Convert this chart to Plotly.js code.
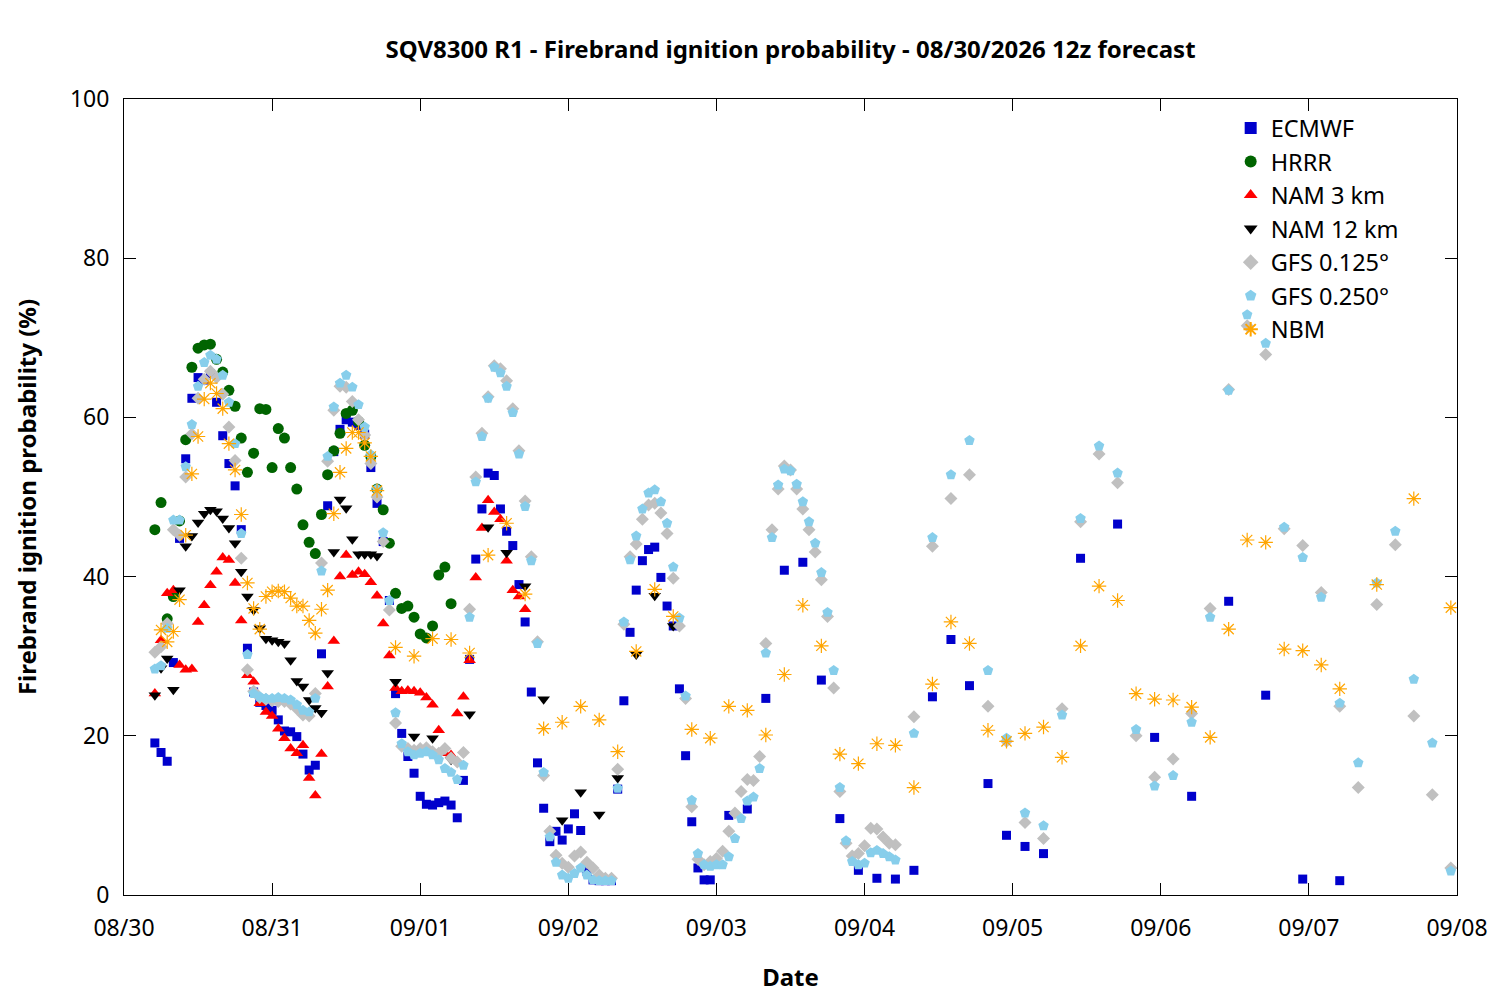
<!DOCTYPE html>
<html>
<head>
<meta charset="utf-8">
<script src="https://cdn.plot.ly/plotly-3.0.1.min.js"></script>
<style>
  body { margin: 0; background: #fff; }
  #chart { width: 1500px; height: 1000px; }
</style>
</head>
<body>
<div id="chart"></div>
<script>
// forecast hours are counted in local hours from 08/30 00:00
var runStart = Date.UTC(2026, 7, 30);

function hourly(a, b, step) {
    var r = [];
    for (var h = a; h <= b; h += step) r.push(h);
    return r;
}

// ECMWF: hourly to h95, 3-hourly to h149, 6-hourly after
var ecmwfHours = hourly(5, 95, 1).concat(hourly(98, 149, 3), hourly(155, 197, 6));
var ecmwf = [
    19.1, 17.9, 16.8, 29.2, 44.8, 54.8, 62.4, 65.0, 64.7, 65.5,
    61.9, 57.7, 54.2, 51.4, 45.9, 31.0, 25.5, 24.2, 23.8, 23.2,
    22.0, 20.6, 20.5, 19.9, 17.7, 15.7, 16.3, 30.3, 48.9, 55.7,
    58.5, 59.7, 59.4, 59.0, 57.9, 53.7, 49.2, 44.4, 37.0, 25.3,
    20.3, 17.4, 15.3, 12.4, 11.4, 11.3, 11.6, 11.8, 11.3, 9.7,
    14.4, 29.6, 42.2, 48.5, 53.0, 52.7, 48.5, 45.7, 43.9, 39.0,
    34.3, 25.5, 16.6, 10.9, 6.7, 8.0, 6.9, 8.3, 10.2, 8.1,
    3.0, 1.9, 1.8, 1.8, 1.8, 13.3, 24.4, 33.0, 38.3, 42.0,
    43.4, 43.7, 39.9, 36.3, 33.8, 25.9, 17.5, 9.2, 3.4, 1.9,
    1.9,
    10.0, 10.8, 24.7, 40.8, 41.8, 27.0, 9.6, 3.1, 2.1, 2.0,
    3.1, 24.9, 32.1, 26.3, 14.0, 7.5, 6.1, 5.2,
    42.3, 46.6, 19.8, 12.4, 36.9, 25.1, 2.0, 1.8
];

var hrrrHours = hourly(5, 53, 1);
var hrrr = [
    45.9, 49.3, 34.7, 37.5, 47.0, 57.2, 66.3, 68.7, 69.1, 69.2,
    67.3, 65.7, 63.4, 61.4, 57.4, 53.1, 55.5, 61.1, 61.0, 53.7,
    58.6, 57.4, 53.7, 51.0, 46.5, 44.3, 42.9, 47.8, 52.8, 55.8,
    58.0, 60.5, 60.9, 59.5, 56.5, 55.1, 51.0, 48.4, 44.2, 37.9,
    36.0, 36.3, 34.9, 32.8, 32.3, 33.8, 40.2, 41.2, 36.6
];

var nam3Hours = hourly(5, 65, 1);
var nam3 = [
    25.3, 32.0, 37.9, 38.3, 28.9, 28.3, 28.4, 34.3, 36.4, 38.9,
    40.6, 42.4, 42.1, 39.2, 34.5, 27.6, 26.8, 24.1, 23.0, 22.5,
    20.9, 19.7, 18.4, 17.8, 18.8, 14.7, 12.5, 17.7, 26.2, 31.9,
    40.0, 42.7, 40.2, 40.6, 40.3, 39.3, 37.6, 34.1, 30.1, 26.0,
    25.6, 25.7, 25.6, 25.4, 24.8, 23.9, 20.7, 17.8, 17.6, 22.8,
    24.9, 29.5, 39.9, 46.1, 49.6, 48.1, 47.2, 42.0, 38.3, 37.5,
    35.9
];

var nam12Hours = hourly(5, 41, 1).concat(hourly(44, 89, 3));
var nam12 = [
    25.1, 28.5, 29.7, 25.8, 38.3, 43.8, 45.1, 46.8, 47.9, 48.4,
    48.2, 47.3, 46.1, 44.2, 40.6, 37.5, 35.8, 33.5, 32.2, 32.0,
    31.8, 31.6, 29.5, 26.9, 26.2, 24.5, 23.5, 22.9, 27.9, 43.1,
    49.7, 48.6, 44.7, 42.8, 42.8, 42.8, 42.6,
    26.8, 19.9, 19.7, 17.0, 22.7, 46.2, 43.0, 38.8, 24.6, 9.4,
    12.9, 10.1, 14.7, 30.2, 37.6, 33.8
];

// GFS: hourly to h125, 3-hourly after
var gfsHours = hourly(5, 125, 1).concat(hourly(128, 215, 3));
var gfs0125 = [
    30.5, 31.2, 34.1, 45.9, 45.2, 52.5, 57.9, 62.4, 64.8, 65.8,
    65.0, 62.9, 58.8, 54.6, 42.3, 28.3, 25.6, 24.8, 24.6, 24.4,
    24.3, 24.3, 24.0, 23.4, 22.6, 22.5, 25.3, 41.7, 54.5, 60.9,
    63.9, 63.8, 62.0, 59.7, 57.8, 54.2, 50.0, 44.4, 35.8, 21.6,
    18.7, 18.4, 18.2, 18.4, 18.5, 18.0, 17.8, 18.4, 17.2, 16.7,
    17.9, 35.9, 52.5, 58.0, 62.6, 66.5, 66.1, 64.6, 61.1, 55.8,
    49.5, 42.5, 31.8, 15.0, 8.0, 5.0, 4.0, 3.5, 4.9, 5.4,
    4.1, 3.4, 2.5, 2.1, 2.1, 15.8, 34.0, 42.5, 44.1, 47.2,
    49.0, 49.2, 48.0, 45.4, 39.8, 33.8, 24.7, 11.1, 4.5, 3.8,
    4.2, 4.6, 5.5, 8.0, 10.3, 13.0, 14.5, 14.4, 17.4, 31.6,
    45.9, 51.0, 53.9, 53.4, 51.0, 48.5, 45.9, 43.1, 39.6, 35.0,
    26.0, 13.0, 6.5, 4.9, 5.2, 6.2, 8.4, 8.3, 7.3, 6.5,
    6.3,
    22.4, 43.8, 49.8, 52.8, 23.7, 19.3, 9.1, 7.1, 23.4, 46.9,
    55.4, 51.8, 20.0, 14.8, 17.1, 22.8, 36.0, 63.5, 71.5, 67.9,
    46.0, 43.9, 38.0, 23.7, 13.5, 36.5, 44.0, 22.5, 12.6, 3.4
];
var gfs0250 = [
    28.4, 28.8, 33.5, 47.1, 47.1, 53.8, 59.1, 63.9, 66.9, 67.8,
    67.3, 65.3, 61.9, 56.7, 45.4, 30.2, 25.3, 24.9, 24.7, 24.7,
    24.8, 24.7, 24.5, 23.9, 23.2, 23.0, 24.7, 40.7, 55.1, 61.3,
    64.3, 65.3, 63.8, 61.6, 58.8, 55.3, 51.0, 45.5, 37.0, 22.9,
    19.0, 18.0, 17.6, 17.8, 18.0, 17.6, 17.0, 15.9, 15.4, 14.5,
    16.3, 34.9, 51.9, 57.6, 62.4, 66.3, 65.6, 63.9, 60.6, 55.4,
    48.8, 42.0, 31.6, 15.4, 7.3, 4.1, 2.5, 2.1, 2.7, 3.4,
    2.5, 1.9, 1.8, 1.8, 1.8, 13.4, 34.3, 42.1, 45.1, 48.5,
    50.5, 50.9, 49.4, 46.7, 41.2, 34.8, 25.0, 11.9, 5.2, 3.8,
    3.6, 3.8, 3.8, 4.8, 7.1, 9.6, 11.8, 12.3, 15.9, 30.4,
    44.9, 51.5, 53.5, 53.3, 51.6, 49.4, 46.9, 44.2, 40.5, 35.5,
    28.2, 13.5, 6.8, 4.2, 3.8, 4.0, 5.3, 5.6, 5.2, 4.8,
    4.4,
    20.3, 44.9, 52.8, 57.1, 28.2, 19.7, 10.3, 8.7, 22.6, 47.3,
    56.4, 53.0, 20.8, 13.7, 15.0, 21.7, 34.9, 63.4, 72.9, 69.3,
    46.2, 42.4, 37.4, 24.1, 16.6, 39.2, 45.7, 27.1, 19.1, 3.0
];

// NBM: hourly to h41, 3-hourly to h197, 6-hourly after
var nbmHours = hourly(6, 41, 1).concat(hourly(44, 197, 3), hourly(203, 215, 6));
var nbm = [
    33.3, 31.8, 33.1, 37.1, 45.2, 52.9, 57.6, 62.3, 64.3, 63.0,
    61.1, 56.7, 53.4, 47.8, 39.2, 36.0, 33.4, 37.5, 38.1, 38.2,
    38.1, 37.3, 36.3, 36.3, 34.5, 32.9, 35.9, 38.3, 47.9, 53.1,
    56.1, 58.1, 58.1, 56.8, 55.1, 50.8,
    31.1, 30.0, 32.2, 32.1, 30.4, 42.7, 46.7, 37.8, 20.9, 21.7,
    23.7, 22.0, 18.0, 30.6, 38.4, 35.0, 20.8, 19.7, 23.7, 23.2,
    20.1, 27.7, 36.4, 31.3, 17.7, 16.5, 19.0, 18.8, 13.5, 26.5,
    34.3, 31.6, 20.7, 19.3, 20.3, 21.1, 17.3, 31.3, 38.8, 37.0,
    25.3, 24.6, 24.5, 23.6, 19.8, 33.4, 44.6, 44.3, 30.9, 30.7,
    28.9, 25.9,
    39.0, 49.8, 36.1
];

function toDates(hours) {
    return hours.map(function(h) {
        var d = new Date(runStart + h * 3600000);
        return d.toISOString().slice(0, 16).replace("T", " ");
    });
}

function series(name, hours, values, symbol, color, size) {
    return {
        x: toDates(hours),
        y: values,
        name: name,
        legendgroup: name,
        type: "scatter",
        mode: "markers",
        marker: { symbol: symbol, color: color, size: size, line: { width: 0 } },
        hoverinfo: "x+y+name"
    };
}

var nbmTrace = series("NBM", nbmHours, nbm, "asterisk-open", "#ffa500", 12);
nbmTrace.marker.line = { color: "#ffa500", width: 1.2 };

var data = [
    series("ECMWF", ecmwfHours, ecmwf, "square", "#0000cc", 9),
    series("HRRR", hrrrHours, hrrr, "circle", "#006400", 11),
    series("NAM 3 km", nam3Hours, nam3, "triangle-up", "#ff0000", 11),
    series("NAM 12 km", nam12Hours, nam12, "triangle-down", "#000000", 11),
    series("GFS 0.125°", gfsHours, gfs0125, "diamond", "#c0c0c0", 10),
    series("GFS 0.250°", gfsHours, gfs0250, "pentagon", "#87ceeb", 11),
    nbmTrace
];

var axisCommon = {
    showline: true,
    linecolor: "#000",
    linewidth: 1,
    mirror: "ticks",
    ticks: "inside",
    ticklen: 12,
    tickcolor: "#000",
    showgrid: false,
    zeroline: false,
    tickfont: { size: 23, color: "#000" }
};

var layout = {
    width: 1500,
    height: 1000,
    font: { family: "Noto Sans, Open Sans, sans-serif", color: "#000" },
    paper_bgcolor: "#fff",
    plot_bgcolor: "#fff",
    margin: { l: 124, r: 43, t: 99, b: 105 },
    title: {
        text: "<b>SQV8300 R1 - Firebrand ignition probability - 08/30/2026 12z forecast</b>",
        font: { size: 24 },
        x: 0.527,
        xanchor: "center",
        y: 0.95,
        yanchor: "middle"
    },
    xaxis: Object.assign({}, axisCommon, {
        type: "date",
        range: ["2026-08-30 00:00", "2026-09-08 00:00"],
        dtick: 86400000,
        tick0: "2026-08-30",
        tickformat: "%m/%d",
        ticklabelstandoff: 12,
        title: { text: "<b>Date</b>", font: { size: 24 }, standoff: 27 }
    }),
    yaxis: Object.assign({}, axisCommon, {
        range: [0, 100],
        dtick: 20,
        ticklabelstandoff: 9,
        title: { text: "<b>Firebrand ignition probability (%)</b>", font: { size: 24 }, standoff: 26 }
    }),
    showlegend: true,
    legend: {
        x: 0.96,
        xanchor: "right",
        y: 0.991,
        yanchor: "top",
        bgcolor: "rgba(0,0,0,0)",
        font: { size: 23.5 },
        traceorder: "grouped",
        tracegroupgap: 0,
        itemsizing: "constant"
    }
};

Plotly.newPlot("chart", data, layout, { displayModeBar: false, staticPlot: true });
</script>
</body>
</html>
